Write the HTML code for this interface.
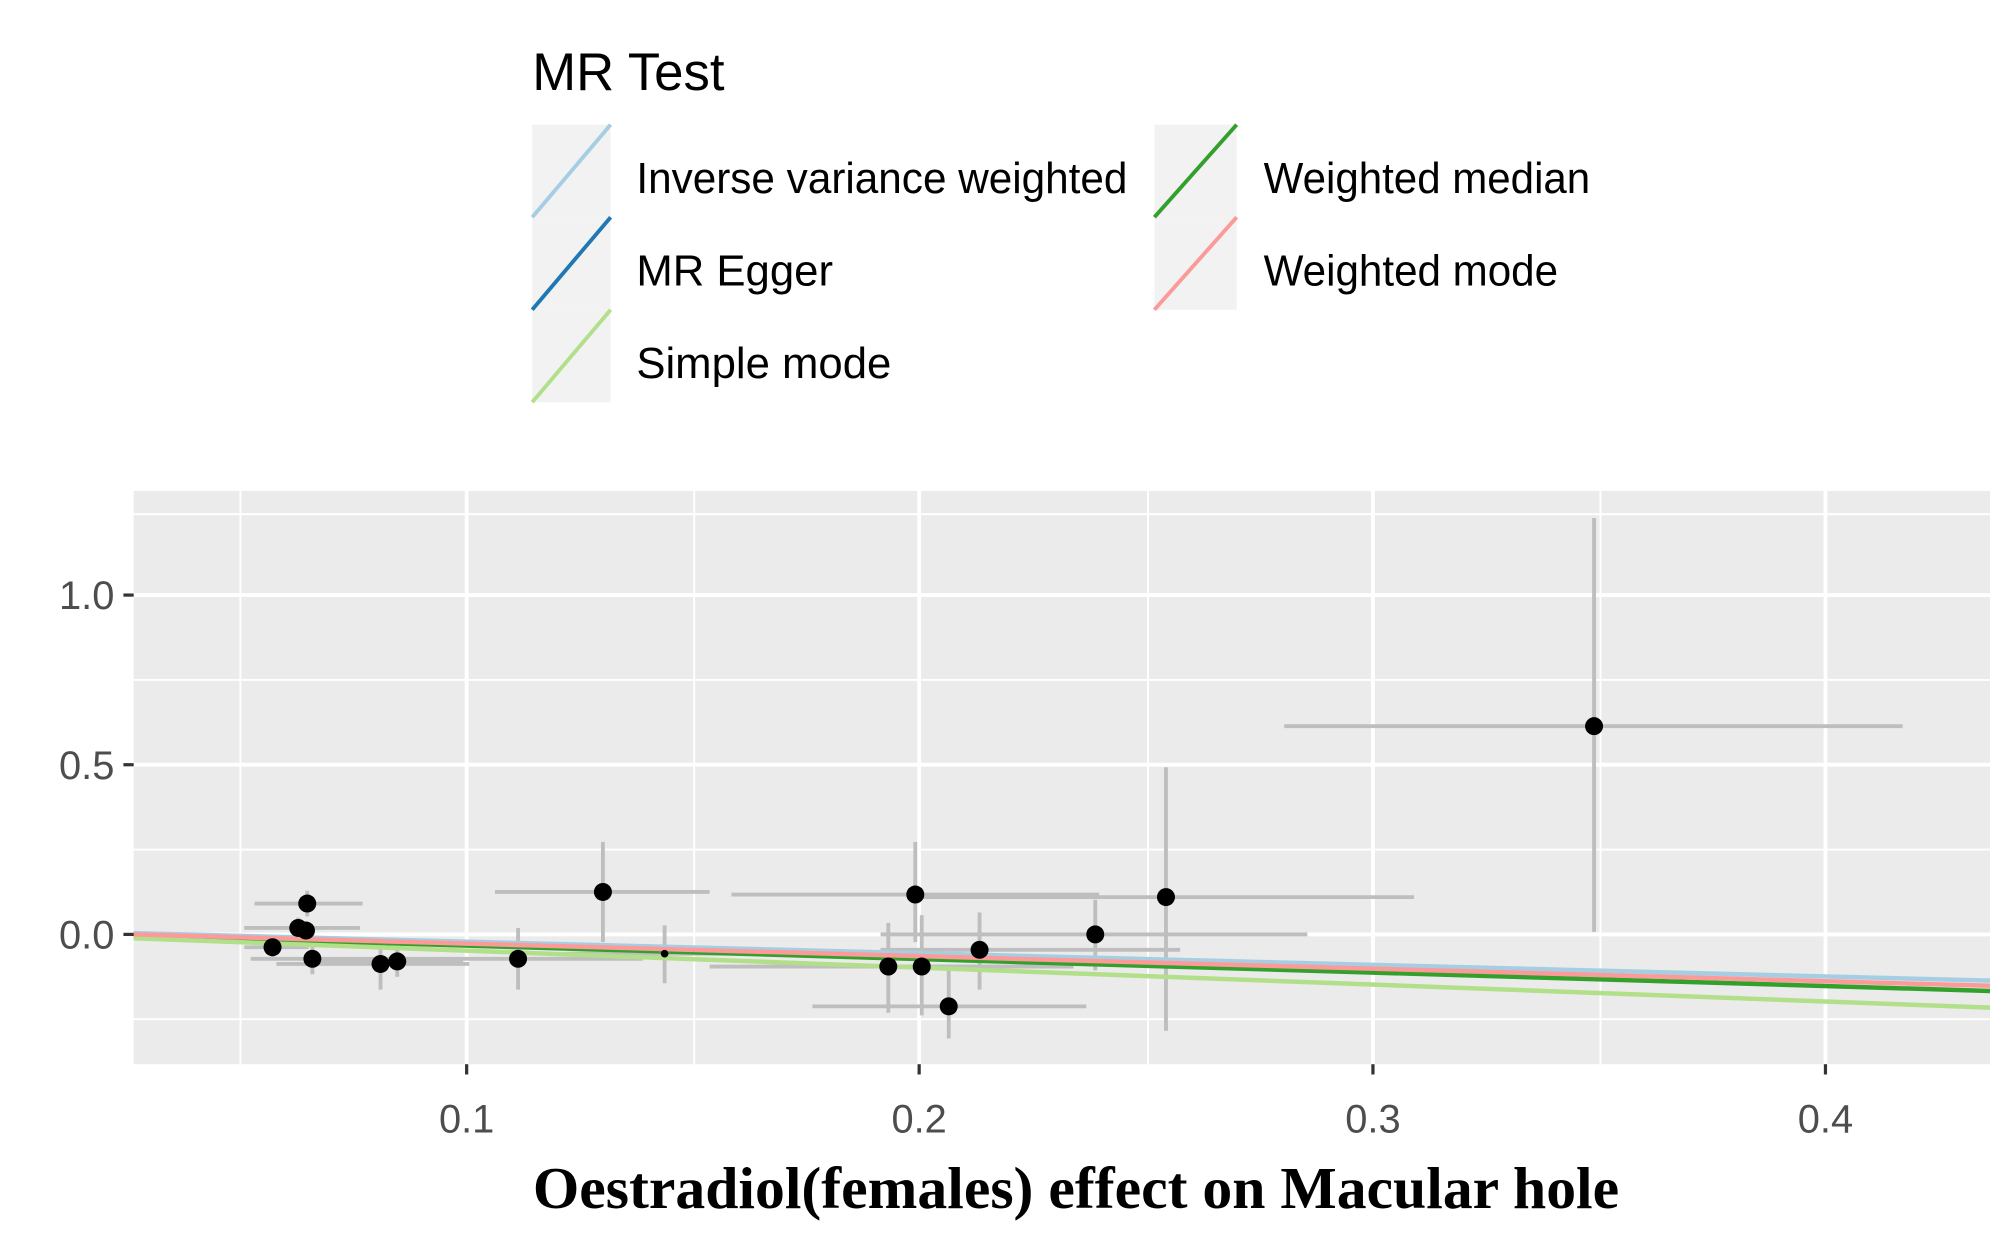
<!DOCTYPE html>
<html><head><meta charset="utf-8"><style>html,body{margin:0;padding:0;background:#fff}svg{display:block}</style></head><body>
<svg width="2008" height="1239" viewBox="0 0 1562 964" preserveAspectRatio="none" xmlns="http://www.w3.org/2000/svg">
<rect width="1562" height="964" fill="#fff"/>
<!-- legend -->
<text x="414" y="70" font-family="Liberation Sans, sans-serif" font-size="41" fill="#000">MR Test</text>
<g>
<rect x="414" y="97" width="61" height="72" fill="#f2f2f2"/>
<rect x="414" y="169" width="61" height="72" fill="#f2f2f2"/>
<rect x="414" y="241" width="61" height="72" fill="#f2f2f2"/>
<rect x="898" y="97" width="64" height="72" fill="#f2f2f2"/>
<rect x="898" y="169" width="64" height="72" fill="#f2f2f2"/>
<line x1="414" y1="169" x2="475" y2="97" stroke="#a6cee3" stroke-width="3"/>
<line x1="414" y1="241" x2="475" y2="169" stroke="#1f78b4" stroke-width="3"/>
<line x1="414" y1="313" x2="475" y2="241" stroke="#b2df8a" stroke-width="3"/>
<line x1="898" y1="169" x2="962" y2="97" stroke="#33a02c" stroke-width="3"/>
<line x1="898" y1="241" x2="962" y2="169" stroke="#fb9a99" stroke-width="3"/>
</g>
<g font-family="Liberation Sans, sans-serif" font-size="34" fill="#000">
<text x="495" y="150" textLength="382" lengthAdjust="spacingAndGlyphs">Inverse variance weighted</text>
<text x="495" y="222">MR Egger</text>
<text x="495" y="294">Simple mode</text>
<text x="983" y="150" textLength="254" lengthAdjust="spacingAndGlyphs">Weighted median</text>
<text x="983" y="222" textLength="229" lengthAdjust="spacingAndGlyphs">Weighted mode</text>
</g>
<!-- panel -->
<rect x="104" y="382" width="1444" height="446" fill="#ebebeb"/>
<g stroke="#fff" stroke-width="1.5">
<line x1="104" y1="400" x2="1548" y2="400"/><line x1="104" y1="529" x2="1548" y2="529"/>
<line x1="104" y1="661" x2="1548" y2="661"/><line x1="104" y1="793" x2="1548" y2="793"/>
<line x1="187" y1="382" x2="187" y2="828"/><line x1="540" y1="382" x2="540" y2="828"/>
<line x1="893" y1="382" x2="893" y2="828"/><line x1="1245" y1="382" x2="1245" y2="828"/>
</g>
<g stroke="#fff" stroke-width="3">
<line x1="104" y1="463" x2="1548" y2="463"/><line x1="104" y1="595" x2="1548" y2="595"/><line x1="104" y1="727" x2="1548" y2="727"/>
<line x1="363" y1="382" x2="363" y2="828"/><line x1="715" y1="382" x2="715" y2="828"/>
<line x1="1068" y1="382" x2="1068" y2="828"/><line x1="1420" y1="382" x2="1420" y2="828"/>
</g>
<!-- error bars -->
<g stroke="#bebebe" stroke-width="3">
<line x1="190" y1="737" x2="240" y2="737"/><line x1="212" y1="728" x2="212" y2="745"/>
<line x1="190" y1="722" x2="280" y2="722"/><line x1="232" y1="714" x2="232" y2="732"/>
<line x1="198" y1="703" x2="282" y2="703"/><line x1="239" y1="693" x2="239" y2="713"/>
<line x1="195" y1="746" x2="300" y2="746"/><line x1="243" y1="735" x2="243" y2="758"/>
<line x1="215" y1="750" x2="365" y2="750"/><line x1="296" y1="735" x2="296" y2="770"/>
<line x1="250" y1="748" x2="360" y2="748"/><line x1="309" y1="738" x2="309" y2="760"/>
<line x1="300" y1="746" x2="500" y2="746"/><line x1="403" y1="722" x2="403" y2="770"/>
<line x1="385" y1="694" x2="552" y2="694"/><line x1="469" y1="655" x2="469" y2="733"/>
<line x1="440" y1="742" x2="600" y2="742"/><line x1="517" y1="720" x2="517" y2="765"/>
<line x1="552" y1="752" x2="830" y2="752"/><line x1="691" y1="718" x2="691" y2="788"/>
<line x1="569" y1="696" x2="855" y2="696"/><line x1="712" y1="655" x2="712" y2="733"/>
<line x1="600" y1="752" x2="835" y2="752"/><line x1="717" y1="712" x2="717" y2="790"/>
<line x1="632" y1="783" x2="845" y2="783"/><line x1="738" y1="755" x2="738" y2="808"/>
<line x1="685" y1="739" x2="918" y2="739"/><line x1="762" y1="710" x2="762" y2="770"/>
<line x1="685" y1="727" x2="1017" y2="727"/><line x1="852" y1="700" x2="852" y2="755"/>
<line x1="715" y1="698" x2="1100" y2="698"/><line x1="907" y1="597" x2="907" y2="802"/>
<line x1="999" y1="565" x2="1480" y2="565"/><line x1="1240" y1="403" x2="1240" y2="725"/>
</g>
<!-- lines -->
<g stroke-width="3.5" fill="none">
<line x1="104" y1="726" x2="1548" y2="763" stroke="#a6cee3"/>
<line x1="104" y1="728" x2="1548" y2="771" stroke="#33a02c"/>
<line x1="104" y1="730" x2="1548" y2="784" stroke="#b2df8a"/>
<line x1="104" y1="727" x2="1548" y2="767" stroke="#fb9a99"/>
</g>
<!-- points -->
<g fill="#000">
<circle cx="212" cy="737" r="7"/><circle cx="232" cy="722" r="7"/><circle cx="238" cy="724" r="7"/>
<circle cx="239" cy="703" r="7"/><circle cx="243" cy="746" r="7"/><circle cx="296" cy="750" r="7"/>
<circle cx="309" cy="748" r="7"/><circle cx="403" cy="746" r="7"/><circle cx="469" cy="694" r="7"/>
<circle cx="517" cy="742" r="3"/><circle cx="691" cy="752" r="7"/><circle cx="712" cy="696" r="7"/>
<circle cx="717" cy="752" r="7"/><circle cx="738" cy="783" r="7"/><circle cx="762" cy="739" r="7"/>
<circle cx="852" cy="727" r="7"/><circle cx="907" cy="698" r="7"/><circle cx="1240" cy="565" r="7"/>
</g>
<!-- axes -->
<g stroke="#333" stroke-width="2.5">
<line x1="96" y1="463" x2="104" y2="463"/><line x1="96" y1="595" x2="104" y2="595"/><line x1="96" y1="727" x2="104" y2="727"/>
<line x1="363" y1="828" x2="363" y2="836"/><line x1="715" y1="828" x2="715" y2="836"/>
<line x1="1068" y1="828" x2="1068" y2="836"/><line x1="1420" y1="828" x2="1420" y2="836"/>
</g>
<g font-family="Liberation Sans, sans-serif" font-size="31" fill="#4d4d4d">
<text x="89" y="474" text-anchor="end">1.0</text>
<text x="89" y="606" text-anchor="end">0.5</text>
<text x="89" y="738" text-anchor="end">0.0</text>
<text x="363" y="881" text-anchor="middle">0.1</text>
<text x="715" y="881" text-anchor="middle">0.2</text>
<text x="1068" y="881" text-anchor="middle">0.3</text>
<text x="1420" y="881" text-anchor="middle">0.4</text>
</g>
<text x="837" y="940" text-anchor="middle" font-family="Liberation Serif, serif" font-weight="bold" font-size="46" fill="#000" textLength="845" lengthAdjust="spacingAndGlyphs">Oestradiol(females) effect on Macular hole</text>
</svg>
</body></html>
